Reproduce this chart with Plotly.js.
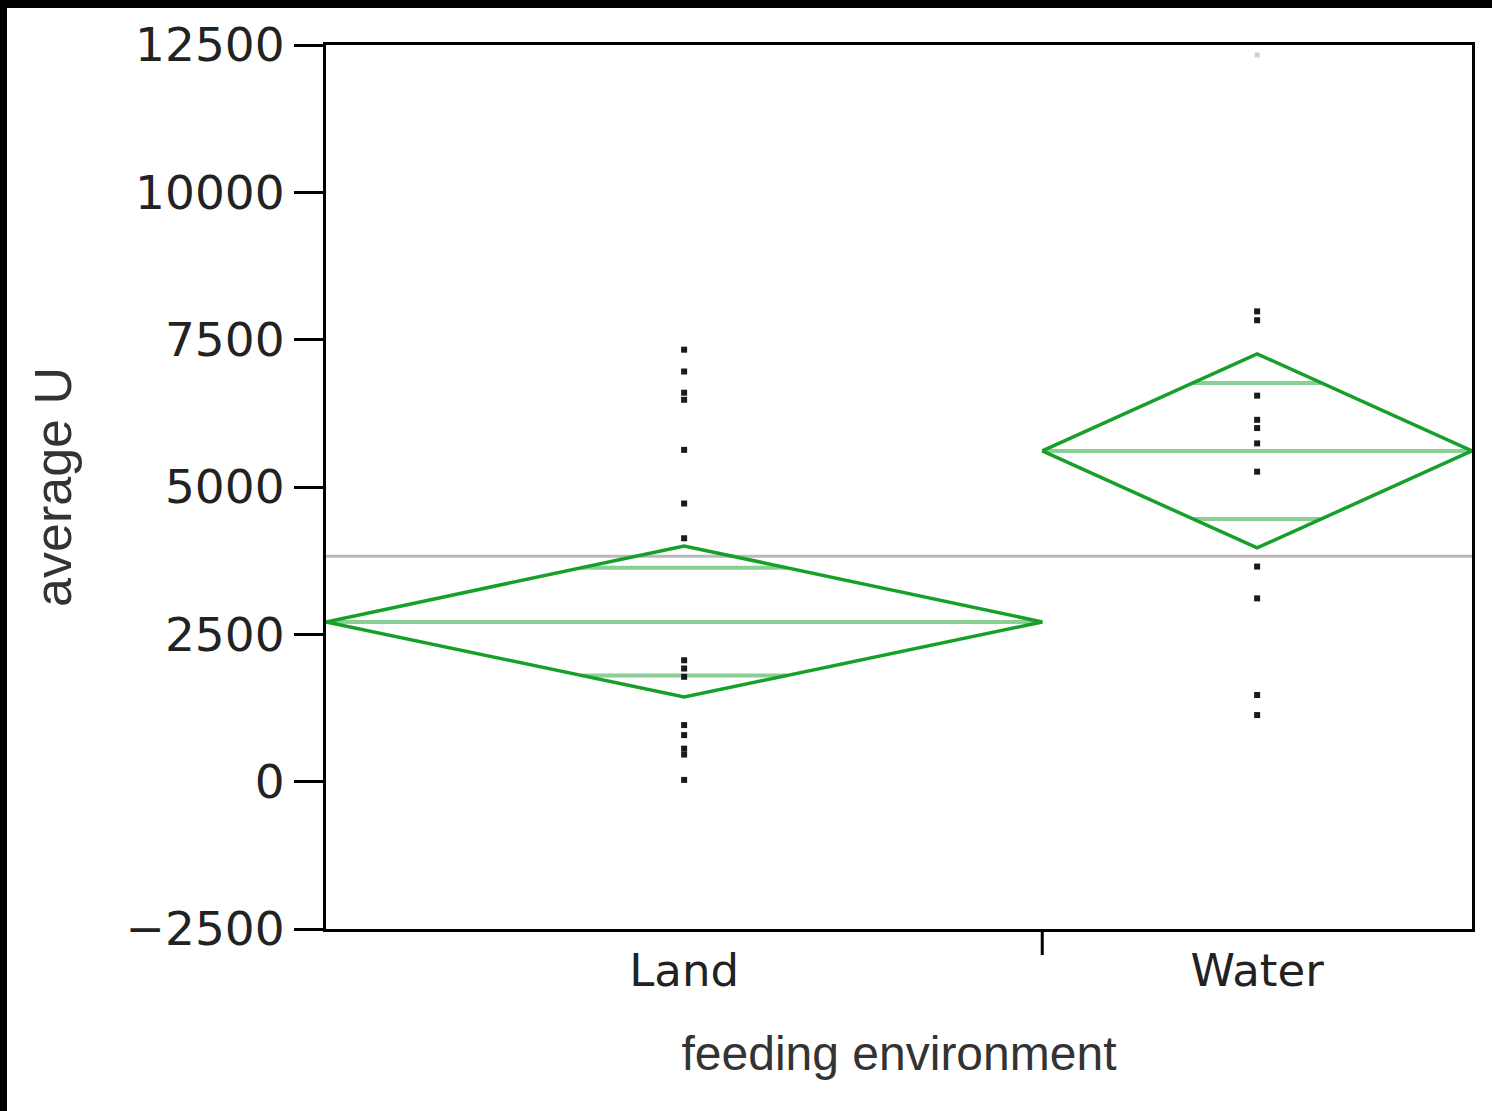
<!DOCTYPE html>
<html>
<head>
<meta charset="utf-8">
<script src="https://cdn.plot.ly/plotly-3.0.1.min.js"></script>
<style>
  html, body { margin: 0; padding: 0; background: #fff; }
  #wrap { position: relative; width: 1492px; height: 1111px; overflow: hidden; }
  #chart { width: 1492px; height: 1111px; }
  #frame { position: absolute; left: 0; top: 0; width: 1492px; height: 1111px;
           box-sizing: border-box; border-top: 8px solid #000; border-left: 7px solid #000;
           pointer-events: none; }
</style>
</head>
<body>
<div id="wrap"><div id="chart"></div><div id="frame"></div></div>
<script>
// ---- data ----
const categories = ["Land", "Water"];
const groupSizes = [25, 15];               // sets the width of each group on the x axis
const landValues = [7330, 6960, 6600, 6480, 5630, 4720, 4130, 2060, 1920, 1780, 960, 790, 560, 460, 30];
const waterValues = [7980, 7830, 6550, 6140, 6000, 5740, 5260, 3650, 3110, 1470, 1130];
const waterFaint = [12330];
const groupMeans = [2710, 5612];
const ciUpper = [4000, 7259];
const ciLower = [1437, 3967];
const overlapUpper = [3630, 6765];
const overlapLower = [1800, 4457];
const grandMean = 3825;
const yTickVals = [-2500, 0, 2500, 5000, 7500, 10000, 12500];
const yTickText = ["\u22122500", "0", "2500", "5000", "7500", "10000", "12500"];

// ---- geometry from group sizes ----
const starts = [], centers = [], ends = [];
let acc = 0;
groupSizes.forEach((n) => { starts.push(acc); centers.push(acc + n / 2); acc += n; ends.push(acc); });
const total = acc;

const green = "rgb(22,160,42)";
const lightGreen = "rgba(40,170,60,0.55)";
const traces = [];

// grand mean
traces.push({ x: [0, total], y: [grandMean, grandMean], mode: "lines",
  line: { color: "rgb(185,185,185)", width: 3 }, hoverinfo: "skip", showlegend: false });

categories.forEach((c, i) => {
  const m = groupMeans[i], up = ciUpper[i], lo = ciLower[i];
  const s = starts[i], e = ends[i], ctr = centers[i], hw = (e - s) / 2;
  // mean line
  traces.push({ x: [s, e], y: [m, m], mode: "lines",
    line: { color: lightGreen, width: 4 }, hoverinfo: "skip", showlegend: false });
  // overlap marks
  [[overlapUpper[i], up], [overlapLower[i], lo]].forEach(([ov, lim]) => {
    const frac = 1 - Math.abs(ov - m) / Math.abs(lim - m);
    traces.push({ x: [ctr - hw * frac, ctr + hw * frac], y: [ov, ov], mode: "lines",
      line: { color: lightGreen, width: 4 }, hoverinfo: "skip", showlegend: false });
  });
  // diamond
  traces.push({ x: [s, ctr, e, ctr, s], y: [m, up, m, lo, m], mode: "lines",
    line: { color: green, width: 3.5 }, name: c, showlegend: false });
});

// points
traces.push({ x: landValues.map(() => centers[0]), y: landValues, mode: "markers",
  marker: { symbol: "square", size: 6, color: "#1a1a1a" }, showlegend: false });
traces.push({ x: waterValues.map(() => centers[1]), y: waterValues, mode: "markers",
  marker: { symbol: "square", size: 6, color: "#1a1a1a" }, showlegend: false });
traces.push({ x: waterFaint.map(() => centers[1]), y: waterFaint, mode: "markers",
  marker: { symbol: "square", size: 5, color: "#d0d0d0" }, showlegend: false });

const layout = {
  width: 1492, height: 1111,
  margin: { l: 326, r: 20, t: 45, b: 182 },
  paper_bgcolor: "#fff", plot_bgcolor: "#fff",
  showlegend: false,
  xaxis: {
    range: [0, total], showgrid: false, zeroline: false,
    showline: true, linecolor: "#000", linewidth: 3, mirror: true,
    tickmode: "array", tickvals: centers, ticktext: categories,
    ticks: "", ticklabelstandoff: 0,
    tickfont: { family: "DejaVu Sans, sans-serif", size: 45, color: "#222" },
    title: { text: "feeding environment", standoff: 41,
      font: { family: "Liberation Sans, Arial, sans-serif", size: 48, color: "#333" } }
  },
  yaxis: {
    range: [-2500, 12500], showgrid: false, zeroline: false,
    showline: true, linecolor: "#000", linewidth: 3, mirror: true,
    tickmode: "array", tickvals: yTickVals, ticktext: yTickText,
    ticks: "outside", ticklen: 29, tickwidth: 3, tickcolor: "#000",
    ticklabelstandoff: 0,
    tickfont: { family: "DejaVu Sans, sans-serif", size: 47, color: "#222" },
    title: { text: "average U", standoff: 38,
      font: { family: "Liberation Sans, Arial, sans-serif", size: 52, color: "#333" } }
  },
  shapes: ends.slice(0, -1).map((b) => ({
    type: "line", xref: "x", yref: "paper", x0: b, x1: b, y0: 0, y1: -26 / 884,
    line: { color: "#000", width: 3 }
  }))
};

Plotly.newPlot("chart", traces, layout, { staticPlot: true, displayModeBar: false });
</script>
</body>
</html>
